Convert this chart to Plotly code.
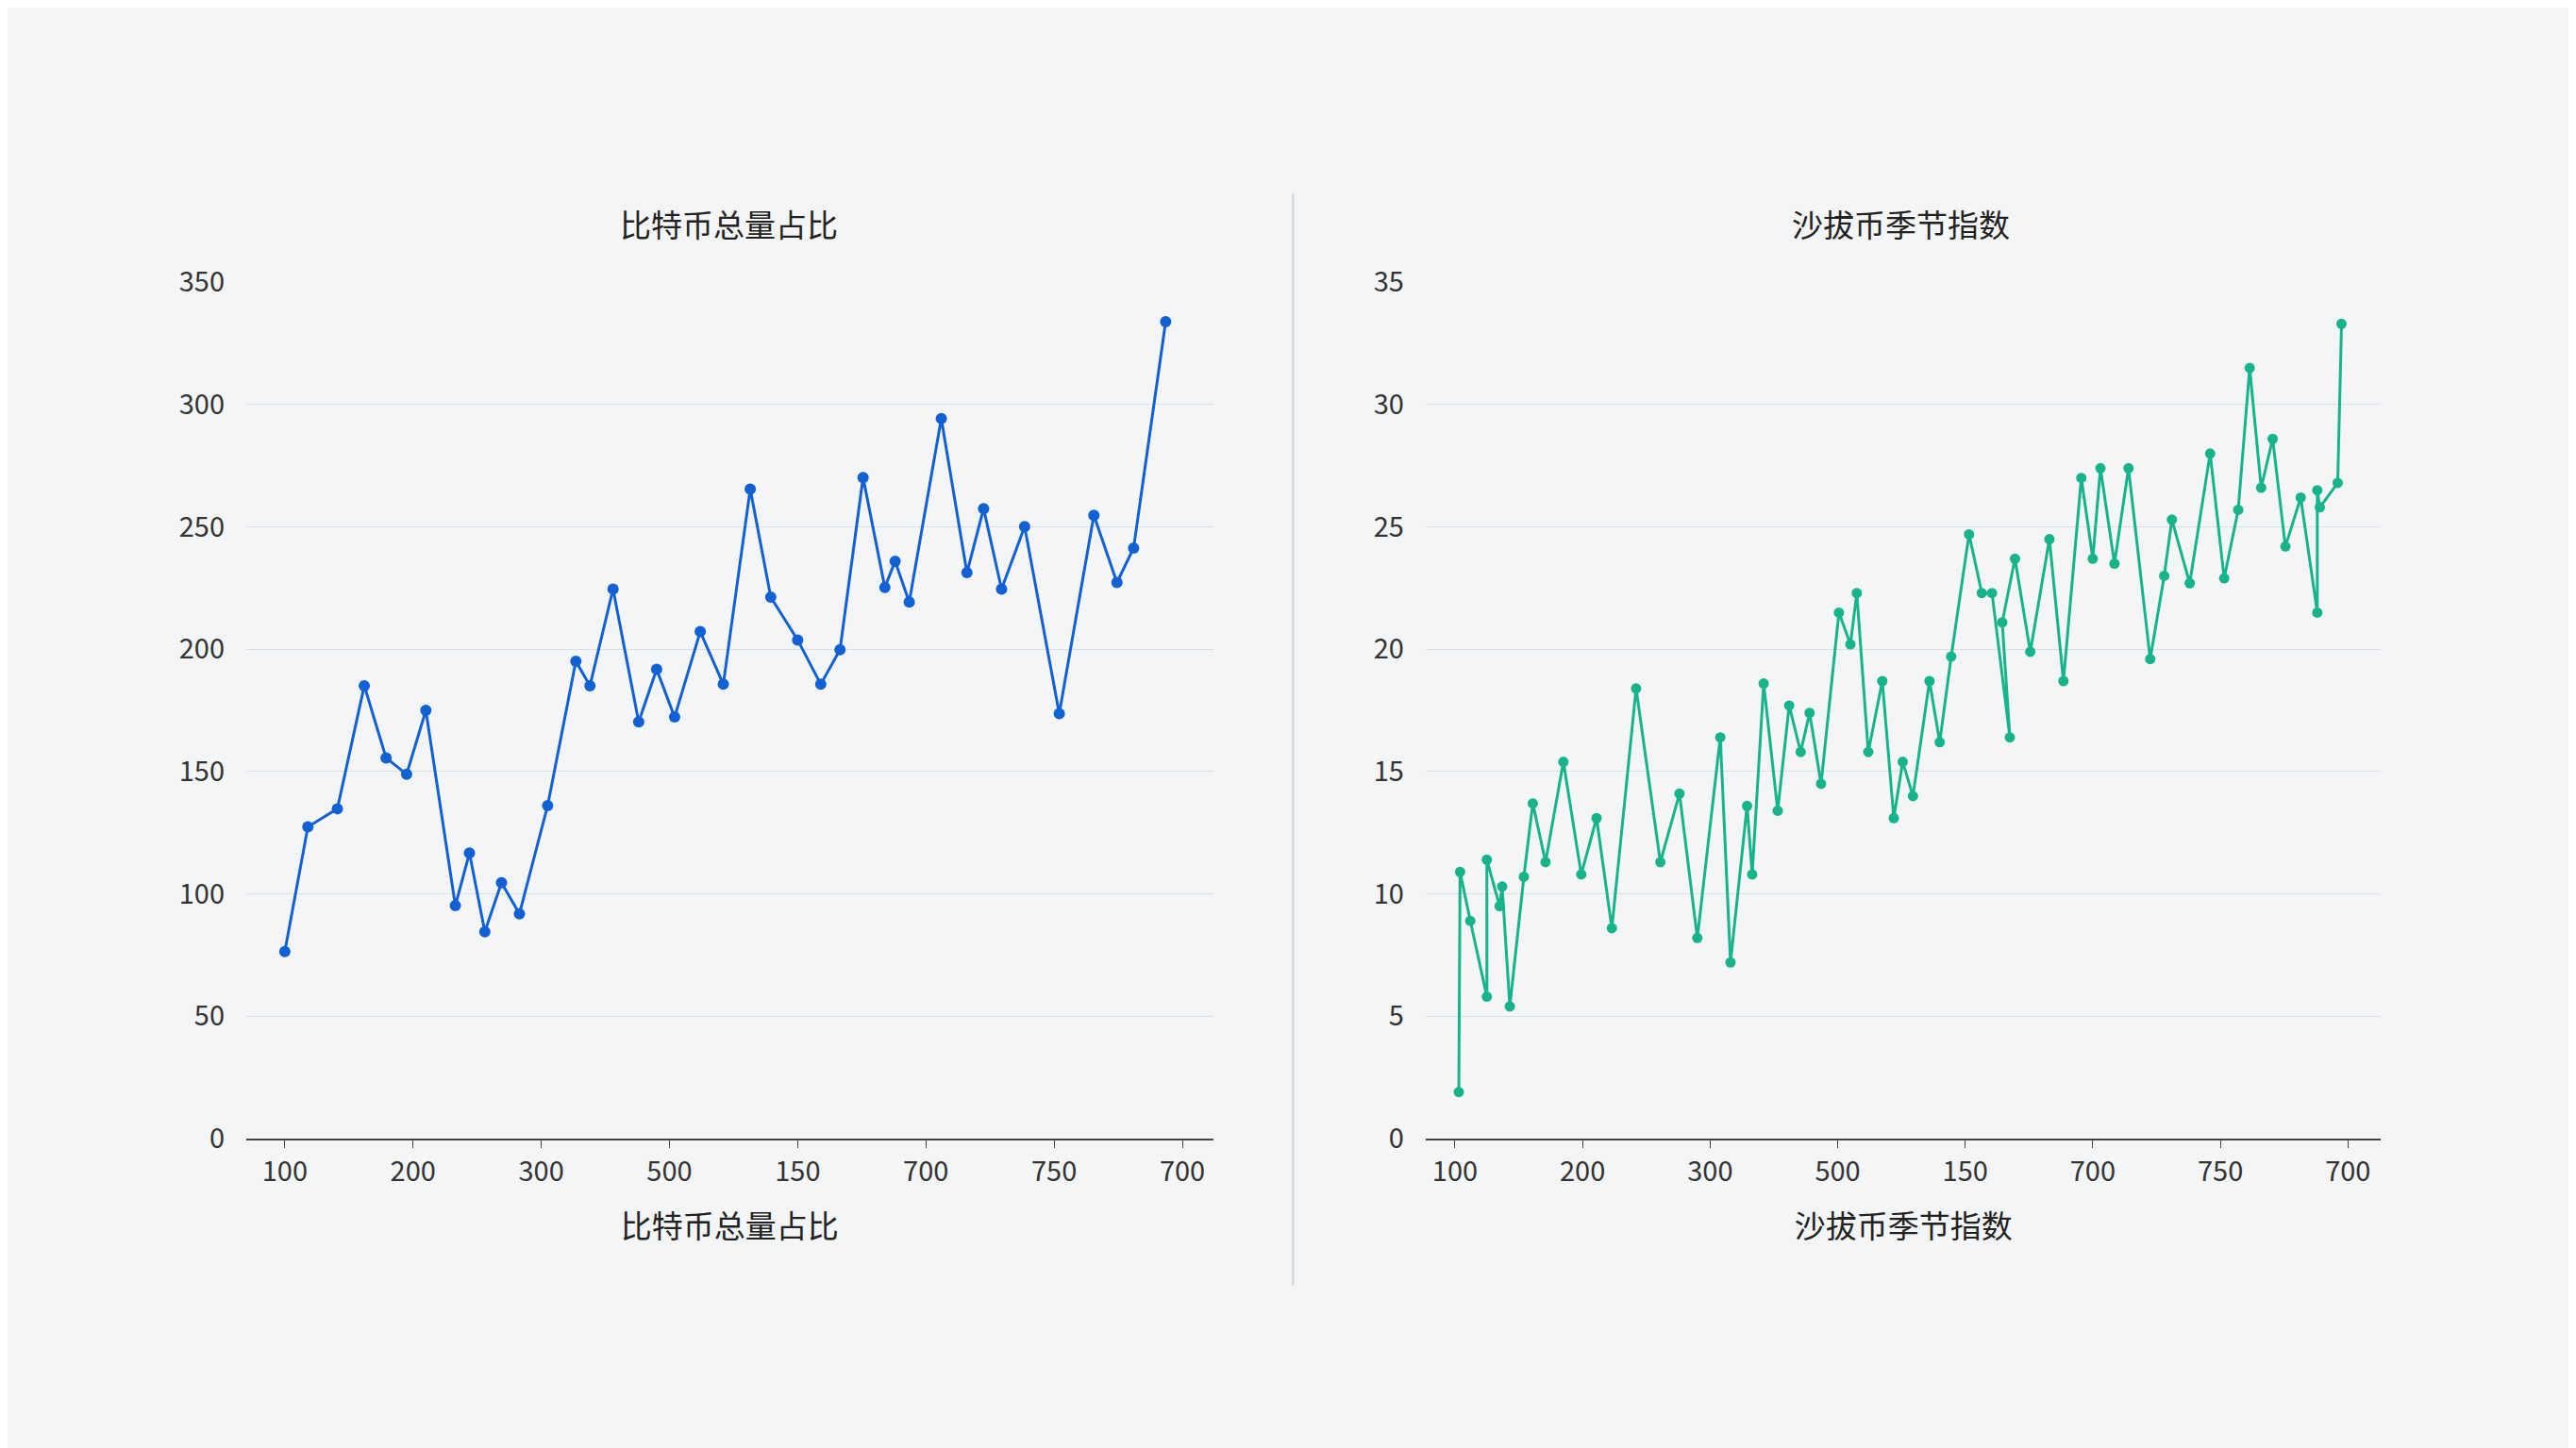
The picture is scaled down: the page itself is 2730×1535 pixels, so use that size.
import plotly.graph_objects as go
from plotly.subplots import make_subplots

# x tick labels as printed on the chart (evenly spaced slots)
tick_labels = ["100", "200", "300", "500", "150", "700", "750", "700"]

# left series: 比特币总量占比
btc_x = [0, 0.18, 0.41, 0.62, 0.79, 0.95, 1.10, 1.33, 1.44, 1.56, 1.69, 1.83, 2.05, 2.27, 2.38,
         2.56, 2.76, 2.90, 3.04, 3.24, 3.42, 3.63, 3.79, 4.00, 4.18, 4.33, 4.51, 4.68, 4.76, 4.87,
         5.12, 5.32, 5.45, 5.59, 5.77, 6.04, 6.31, 6.49, 6.62, 6.87]
btc_y = [76.4, 127.4, 134.8, 185.1, 155.6, 148.9, 175.0, 95.2, 116.7, 84.5, 104.6, 91.9, 136.1,
         195.1, 185.1, 224.6, 170.3, 191.8, 172.3, 207.2, 185.7, 265.5, 221.3, 203.8, 185.7, 199.8,
         270.2, 225.3, 236.0, 219.3, 294.3, 231.3, 257.5, 224.6, 250.1, 173.7, 254.8, 227.3, 241.4,
         333.9]

# right series: 沙拔币季节指数
sea_x = [0.03, 0.04, 0.12, 0.25, 0.25, 0.35, 0.37, 0.43, 0.54, 0.61, 0.71, 0.85, 0.99, 1.11, 1.23,
         1.42, 1.61, 1.76, 1.90, 2.08, 2.16, 2.29, 2.33, 2.42, 2.53, 2.62, 2.71, 2.78, 2.87, 3.01,
         3.10, 3.15, 3.24, 3.35, 3.44, 3.51, 3.59, 3.72, 3.80, 3.89, 4.03, 4.13, 4.21, 4.35, 4.29,
         4.39, 4.51, 4.66, 4.77, 4.91, 5.00, 5.06, 5.17, 5.28, 5.45, 5.56, 5.62, 5.76, 5.92, 6.03,
         6.14, 6.23, 6.32, 6.41, 6.51, 6.63, 6.76, 6.76, 6.78, 6.92, 6.95]
sea_y = [1.9, 10.9, 8.9, 5.8, 11.4, 9.5, 10.3, 5.4, 10.7, 13.7, 11.3, 15.4, 10.8, 13.1, 8.6,
         18.4, 11.3, 14.1, 8.2, 16.4, 7.2, 13.6, 10.8, 18.6, 13.4, 17.7, 15.8, 17.4, 14.5, 21.5,
         20.2, 22.3, 15.8, 18.7, 13.1, 15.4, 14.0, 18.7, 16.2, 19.7, 24.7, 22.3, 22.3, 16.4, 21.1,
         23.7, 19.9, 24.5, 18.7, 27.0, 23.7, 27.4, 23.5, 27.4, 19.6, 23.0, 25.3, 22.7, 28.0, 22.9,
         25.7, 31.5, 26.6, 28.6, 24.2, 26.2, 21.5, 26.5, 25.8, 26.8, 33.3]

FONT = "Noto Sans CJK SC"
fig = make_subplots(rows=1, cols=2)

fig.add_trace(go.Scatter(x=btc_x, y=btc_y, mode="lines+markers",
                         line=dict(color="#1160d4", width=3),
                         marker=dict(size=12, color="#1160d4")), row=1, col=1)
fig.add_trace(go.Scatter(x=sea_x, y=sea_y, mode="lines+markers",
                         line=dict(color="#17b48c", width=3),
                         marker=dict(size=11, color="#17b48c")), row=1, col=2)

axis_common = dict(tickmode="array", tickvals=list(range(8)), ticktext=tick_labels,
                   showgrid=False, zeroline=False, showline=True, linecolor="#444", linewidth=2,
                   ticks="outside", ticklen=8, tickcolor="#444",
                   tickfont=dict(size=29, color="#333", family=FONT),
                   title_font=dict(size=33, color="#222", family=FONT), title_standoff=30)
fig.update_xaxes(axis_common)
fig.update_xaxes(domain=[0.0927, 0.468], range=[-0.30, 7.24], title_text="比特币总量占比", row=1, col=1)
fig.update_xaxes(domain=[0.5505, 0.9214], range=[-0.23, 7.26], title_text="沙拔币季节指数", row=1, col=2)

yaxis_common = dict(showgrid=True, gridcolor="#dcdfe3", gridwidth=1, zeroline=False, showline=False,
                    tickfont=dict(size=29, color="#333", family=FONT), ticklabelstandoff=22)
fig.update_yaxes(yaxis_common)
fig.update_yaxes(domain=[0.213, 0.821], range=[0, 350], dtick=50, row=1, col=1)
fig.update_yaxes(domain=[0.213, 0.821], range=[0, 35], dtick=5, row=1, col=2)

fig.add_annotation(text="比特币总量占比", x=0.280, y=0.863, xref="paper", yref="paper",
                   xanchor="center", yanchor="middle",
                   showarrow=False, font=dict(size=33, color="#222", family=FONT))
fig.add_annotation(text="沙拔币季节指数", x=0.735, y=0.863, xref="paper", yref="paper",
                   xanchor="center", yanchor="middle",
                   showarrow=False, font=dict(size=33, color="#222", family=FONT))
fig.add_shape(type="line", xref="paper", yref="paper", x0=0.499, x1=0.499, y0=0.109, y1=0.884,
              line=dict(color="#d0d3d7", width=2))

fig.update_layout(width=2730, height=1535, showlegend=False,
                  paper_bgcolor="#f4f5f6", plot_bgcolor="#f4f5f6",
                  margin=dict(l=0, r=0, t=0, b=0))
fig.write_html("out.html")
